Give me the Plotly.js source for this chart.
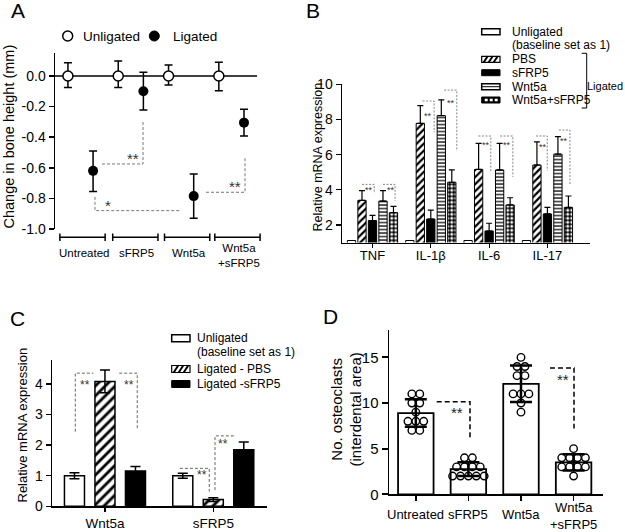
<!DOCTYPE html>
<html>
<head>
<meta charset="utf-8">
<script src="https://cdn.plot.ly/plotly-3.0.1.min.js"></script>
<style>html,body{margin:0;padding:0;background:#fff}</style>
</head>
<body>
<div id="chart" style="width:625px;height:532px"></div>
<script>
// ---- data ----
// A: change in bone height (mm), mean with error bars
var groupsA = ['Untreated', 'sFRP5', 'Wnt5a', 'Wnt5a<br>+sFRP5'];
var unligA = [0, 0, 0, 0];
var unligA_up = [0.087, 0.098, 0.072, 0.089];
var unligA_dn = [0.076, 0.076, 0.059, 0.096];
var ligA = [-0.62, -0.10, -0.785, -0.305];
var ligA_up = [0.13, 0.125, 0.145, 0.087];
var ligA_dn = [0.135, 0.123, 0.145, 0.087];
var yTicksA = [0, -0.2, -0.4, -0.6, -0.8, -1.0];
var yTickTextA = ['0.0', '-0.2', '-0.4', '-0.6', '-0.8', '-1.0'];

// B: relative mRNA expression (baseline 1)
var genesB = ['TNF', 'IL-1β', 'IL-6', 'IL-17'];
var unligB = [1.12, 1.12, 1.12, 1.12];
var pbsB = [3.40, 7.78, 5.16, 5.41];
var pbsB_err = [0.55, 1.01, 1.48, 1.32];
var sfrpB = [2.25, 2.34, 1.66, 2.63];
var sfrpB_err = [0.30, 0.51, 0.44, 0.37];
var wntB = [3.36, 8.22, 5.13, 6.03];
var wntB_err = [0.59, 0.89, 1.51, 0.99];
var comboB = [2.70, 4.43, 3.14, 3.00];
var comboB_err = [0.36, 0.70, 0.41, 0.65];
var yTicksB = [2, 4, 6, 8, 10];

// C: relative mRNA expression
var genesC = ['Wnt5a', 'sFRP5'];
var unligC = [1.0, 1.0];
var unligC_err = [0.10, 0.08];
var pbsC = [4.08, 0.22];
var pbsC_err = [0.37, 0.06];
var sfrpC = [1.15, 1.85];
var sfrpC_err = [0.15, 0.25];
var yTicksC = [0, 1, 2, 3, 4];

// D: osteoclast counts
var groupsD = ['Untreated', 'sFRP5', 'Wnt5a', 'Wnt5a<br>+sFRP5'];
var meanD = [8.9, 2.75, 12.1, 3.5];
var sdD = [1.5, 0.75, 2.0, 0.9];
var ptsD = [
  [11, 11, 10, 10, 9, 8, 8, 8, 7, 7],
  [4, 4, 3, 3, 3, 3, 2, 2, 2, 2, 2],
  [15, 14, 14, 13, 13, 11, 11, 11, 10, 9],
  [5, 4, 4, 4, 4, 3, 3, 3, 3, 2]
];
var yTicksD = [0, 5, 10, 15];

// significance brackets (data coords) and their star labels
var sigA = [
  {pts: [[0.427, -0.575], [1.243, -0.575], [1.243, -0.30]], s: '**', at: [1.05, -0.54]},
  {pts: [[0.288, -0.79], [0.288, -0.88], [1.998, -0.88]], s: '*', at: [0.55, -0.845]},
  {pts: [[2.495, -0.76], [3.27, -0.76], [3.27, -0.53]], s: '**', at: [3.07, -0.725]}
];
var sigB = [
  {pts: [[-0.18, 4.31], [0.03, 4.31], [0.03, 3.8]], s: '**', at: [-0.055, 4.0]},
  {pts: [[0.18, 4.31], [0.387, 4.31], [0.387, 3.36]], s: '**', at: [0.31, 4.0]},
  {pts: [[0.858, 9.05], [1.057, 9.05], [1.057, 7.27]], s: '**', at: [0.954, 8.2]},
  {pts: [[1.228, 9.67], [1.446, 9.67], [1.446, 6.2]], s: '**', at: [1.343, 8.95]},
  {pts: [[1.817, 7.06], [2.029, 7.06], [2.029, 5.03]], s: '**', at: [1.943, 6.55]},
  {pts: [[2.189, 7.06], [2.407, 7.06], [2.407, 4.74]], s: '**', at: [2.30, 6.55]},
  {pts: [[2.803, 7.06], [2.997, 7.06], [2.997, 5.09]], s: '**', at: [2.928, 6.45]},
  {pts: [[3.197, 7.4], [3.386, 7.4], [3.386, 4.27]], s: '**', at: [3.283, 6.75]}
];
var sigC = [
  {pts: [[-0.274, 2.44], [-0.274, 4.35], [-0.108, 4.35]], s: '**', at: [-0.185, 3.95]},
  {pts: [[0.132, 4.35], [0.298, 4.35], [0.298, 2.53]], s: '**', at: [0.222, 3.95]},
  {pts: [[0.692, 1.24], [0.963, 1.24], [0.963, 0.48]], s: '**', at: [0.893, 1.03]},
  {pts: [[1.016, 0.53], [1.016, 2.3], [1.21, 2.3]], s: '**', at: [1.09, 2.02]}
];
var sigD = [
  {pts: [[0.397, 10.15], [1.03, 10.15], [1.03, 6.13]], s: '**', at: [0.778, 9.0]},
  {pts: [[2.551, 13.85], [3.008, 13.85], [3.008, 7.2]], s: '**', at: [2.80, 12.6]}
];

// ---- page geometry ----
var W = 625, H = 532;
function fx(p) { return p / W; }
function fy(p) { return 1 - p / H; }

var shapes = [];
var annotations = [];

function path(xref, yref, pts, color, width, dash) {
  var d = pts.map(function (p, i) { return (i ? 'L' : 'M') + p[0] + ',' + p[1]; }).join(' ');
  shapes.push({type: 'path', xref: xref, yref: yref, path: d,
    line: {color: color, width: width, dash: dash || 'solid'}});
}
function label(xref, yref, x, y, s, size, extra) {
  annotations.push(Object.assign({xref: xref, yref: yref, x: x, y: y, text: s,
    xanchor: 'center', yanchor: 'middle',
    showarrow: false, font: {size: size, color: '#000'}}, extra || {}));
}
function pxPath(pts, color, width) {
  path('paper', 'paper', pts.map(function (p) { return [fx(p[0]), fy(p[1])]; }), color, width);
}
function pxRect(x0, y0, x1, y1, fill, lw) {
  shapes.push({type: 'rect', xref: 'paper', yref: 'paper', x0: fx(x0), x1: fx(x1), y0: fy(y1), y1: fy(y0),
    fillcolor: fill, line: {color: '#000', width: lw}});
}

var base = {showgrid: false, zeroline: false, linecolor: '#000', tickcolor: '#000',
  ticks: 'outside', fixedrange: true};
function ax(o) { return Object.assign({}, base, o); }

var traces = [];

// ---------- Panel A ----------
traces.push({
  type: 'scatter', mode: 'markers', xaxis: 'x', yaxis: 'y',
  x: groupsA.map(function (g, i) { return i - 0.25; }), y: unligA,
  marker: {symbol: 'circle', size: 10, color: '#fff', line: {color: '#000', width: 1.5}},
  error_y: {type: 'data', symmetric: false, array: unligA_up, arrayminus: unligA_dn,
    color: '#000', thickness: 1.5, width: 4},
  cliponaxis: false, showlegend: false
});
traces.push({
  type: 'scatter', mode: 'markers', xaxis: 'x', yaxis: 'y',
  x: groupsA.map(function (g, i) { return i + 0.25; }), y: ligA,
  marker: {symbol: 'circle', size: 10, color: '#000'},
  error_y: {type: 'data', symmetric: false, array: ligA_up, arrayminus: ligA_dn,
    color: '#000', thickness: 1.5, width: 4},
  cliponaxis: false, showlegend: false
});
shapes.push({type: 'line', xref: 'x', yref: 'y', x0: -0.507, x1: 3.51, y0: 0, y1: 0,
  layer: 'below', line: {color: '#000', width: 1.5}});
var bracketA = [0.04, 1.09, 2.12, 3.12];
groupsA.forEach(function (g, i) {
  var c = bracketA[i], yb = fy(237.3);
  path('x', 'paper', [[c - 0.45, yb], [c + 0.45, yb]], '#000', 1.5);
  path('x', 'paper', [[c - 0.45, fy(233.5)], [c - 0.45, fy(241)]], '#000', 1.5);
  path('x', 'paper', [[c + 0.45, fy(233.5)], [c + 0.45, fy(241)]], '#000', 1.5);
  var two = g.indexOf('<br>') >= 0;
  label('x', 'paper', c + 0.03, fy(two ? 255.5 : 253), g, 11.5);
});
sigA.forEach(function (s) {
  path('x', 'y', s.pts, '#777', 1, '3px,2px');
  label('x', 'y', s.at[0], s.at[1], s.s, 15, {font: {size: 15, color: '#333'}});
});
// legend A
shapes.push({type: 'circle', xref: 'paper', yref: 'paper', x0: fx(62.7), x1: fx(72.7), y0: fy(41), y1: fy(31),
  fillcolor: '#fff', line: {color: '#000', width: 1.5}});
shapes.push({type: 'circle', xref: 'paper', yref: 'paper', x0: fx(149.3), x1: fx(159.3), y0: fy(41), y1: fy(31),
  fillcolor: '#000', line: {color: '#000', width: 1}});
label('paper', 'paper', fx(81), fy(36), 'Unligated', 13.5, {xanchor: 'left'});
label('paper', 'paper', fx(170.5), fy(36), 'Ligated', 13.5, {xanchor: 'left'});
label('paper', 'paper', fx(8.5), fy(137), 'Change in bone height (mm)', 14.5, {textangle: -90});
label('paper', 'paper', fx(17.5), fy(10.5), 'A', 21);

// ---------- Panel B ----------
var slotB = 0.18, barB = 0.142;
var patB = {
  unlig: {color: '#fff', line: {color: '#000', width: 1}},
  pbs: {color: '#fff', line: {color: '#000', width: 1},
    pattern: {shape: '/', fgcolor: '#000', bgcolor: '#fff', size: 5, solidity: 0.45}},
  sfrp: {color: '#000', line: {color: '#000', width: 1}},
  wnt: {color: '#fff', line: {color: '#000', width: 1},
    pattern: {shape: '-', fgcolor: '#000', bgcolor: '#fff', size: 3.5, solidity: 0.35}},
  combo: {color: '#000', line: {color: '#000', width: 1},
    pattern: {shape: '.', fgcolor: '#fff', bgcolor: '#000', size: 4, solidity: 0.45}}
};
var seriesB = [
  [unligB, null, patB.unlig], [pbsB, pbsB_err, patB.pbs], [sfrpB, sfrpB_err, patB.sfrp],
  [wntB, wntB_err, patB.wnt], [comboB, comboB_err, patB.combo]
];
seriesB.forEach(function (s, k) {
  var t = {
    type: 'bar', xaxis: 'x2', yaxis: 'y2', x: genesB.map(function (g, i) { return i; }), y: s[0],
    width: barB, offset: (k - 2) * slotB - barB / 2, marker: s[2], showlegend: false
  };
  if (s[1]) t.error_y = {type: 'data', symmetric: false, array: s[1],
    arrayminus: s[1].map(function () { return 0; }), color: '#000', thickness: 1.2, width: 3};
  traces.push(t);
});
sigB.forEach(function (s) {
  path('x2', 'y2', s.pts, '#666', 0.8, '2px,1.5px');
  label('x2', 'y2', s.at[0], s.at[1], s.s, 9, {font: {size: 9, color: '#333'}});
});
label('paper', 'paper', fx(317.5), fy(157), 'Relative mRNA expression', 12.5, {textangle: -90});
label('paper', 'paper', fx(313), fy(10.8), 'B', 21);
// legend B
var rowsB = [31.7, 59.3, 72.7, 86.7, 100];
var sx0 = 481.7, sx1 = 500;
pxRect(sx0, rowsB[0] - 3, sx1, rowsB[0] + 3, '#fff', 1.5);
pxRect(sx0, rowsB[1] - 3, sx1, rowsB[1] + 3, '#fff', 1.2);
[2, 7, 12].forEach(function (o) {
  pxPath([[sx0 + o, rowsB[1] + 3], [sx0 + o + 4, rowsB[1] - 3]], '#000', 2);
});
pxRect(sx0, rowsB[2] - 3, sx1, rowsB[2] + 3, '#000', 1);
pxRect(sx0, rowsB[3] - 3, sx1, rowsB[3] + 3, '#fff', 1.5);
pxPath([[sx0, rowsB[3]], [sx1, rowsB[3]]], '#000', 1);
pxRect(sx0, rowsB[4] - 3, sx1, rowsB[4] + 3, '#000', 1);
[3, 8, 13].forEach(function (o) {
  shapes.push({type: 'rect', xref: 'paper', yref: 'paper', x0: fx(sx0 + o), x1: fx(sx0 + o + 3),
    y0: fy(rowsB[4] + 1.3), y1: fy(rowsB[4] - 1.3), fillcolor: '#fff', line: {width: 0}});
});
label('paper', 'paper', fx(510), fy(31.7), 'Unligated', 12, {xanchor: 'left'});
label('paper', 'paper', fx(510), fy(45), '(baseline set as 1)', 12, {xanchor: 'left'});
label('paper', 'paper', fx(510), fy(59.3), 'PBS', 12, {xanchor: 'left'});
label('paper', 'paper', fx(510), fy(72.7), 'sFRP5', 12, {xanchor: 'left'});
label('paper', 'paper', fx(510), fy(86.7), 'Wnt5a', 12, {xanchor: 'left'});
label('paper', 'paper', fx(510), fy(100), 'Wnt5a+sFRP5', 12, {xanchor: 'left'});
pxPath([[581.7, 53.3], [586.7, 53.3], [586.7, 108], [581.7, 108]], '#000', 1);
label('paper', 'paper', fx(625), fy(86), 'Ligated', 11, {xanchor: 'right'});

// ---------- Panel C ----------
var slotC = 0.2816, barC = 0.185;
var seriesC = [
  [unligC, unligC_err, {color: '#fff', line: {color: '#000', width: 1.5}}],
  [pbsC, pbsC_err, {color: '#fff', line: {color: '#000', width: 1.5},
    pattern: {shape: '/', fgcolor: '#000', bgcolor: '#fff', size: 7, solidity: 0.4}}],
  [sfrpC, sfrpC_err, {color: '#000', line: {color: '#000', width: 1.5}}]
];
seriesC.forEach(function (s, k) {
  traces.push({
    type: 'bar', xaxis: 'x3', yaxis: 'y3', x: genesC.map(function (g, i) { return i; }), y: s[0],
    width: barC, offset: (k - 1) * slotC - barC / 2, marker: s[2], showlegend: false,
    error_y: {type: 'data', array: s[1], color: '#000', thickness: 1.5, width: 5}
  });
});
sigC.forEach(function (s) {
  path('x3', 'y3', s.pts, '#666', 1, '3px,2px');
  label('x3', 'y3', s.at[0], s.at[1], s.s, 12, {font: {size: 12, color: '#333'}});
});
label('paper', 'paper', fx(21.5), fy(425), 'Relative mRNA expression', 13, {textangle: -90});
label('paper', 'paper', fx(17), fy(318), 'C', 21);
// legend C
var rowsC = [338.3, 369, 384];
var cx0 = 171.7, cx1 = 190;
pxRect(cx0, rowsC[0] - 3.5, cx1, rowsC[0] + 3.5, '#fff', 1.5);
pxRect(cx0, rowsC[1] - 3.5, cx1, rowsC[1] + 3.5, '#fff', 1.2);
[2, 7, 12].forEach(function (o) {
  pxPath([[cx0 + o, rowsC[1] + 3.5], [cx0 + o + 4.5, rowsC[1] - 3.5]], '#000', 2);
});
pxRect(cx0, rowsC[2] - 3.5, cx1, rowsC[2] + 3.5, '#000', 1);
label('paper', 'paper', fx(195), fy(338.3), 'Unligated', 12, {xanchor: 'left'});
label('paper', 'paper', fx(195), fy(352.3), '(baseline set as 1)', 12, {xanchor: 'left'});
label('paper', 'paper', fx(195), fy(369), 'Ligated - PBS', 12, {xanchor: 'left'});
label('paper', 'paper', fx(195), fy(384), 'Ligated -sFRP5', 12, {xanchor: 'left'});

// ---------- Panel D ----------
traces.push({
  type: 'bar', xaxis: 'x4', yaxis: 'y4', x: groupsD.map(function (g, i) { return i; }), y: meanD,
  width: 0.675, marker: {color: '#fff', line: {color: '#000', width: 1.8}}, showlegend: false,
  error_y: {type: 'data', array: sdD, color: '#000', thickness: 2.5, width: 11}
});
function swarm(vals, step) {
  var counts = {}, seen = {};
  vals.forEach(function (v) { counts[v] = (counts[v] || 0) + 1; });
  return vals.map(function (v) {
    var k = seen[v] || 0; seen[v] = k + 1;
    return (k - (counts[v] - 1) / 2) * step;
  });
}
var dx = [], dy = [];
ptsD.forEach(function (vals, g) {
  var off = swarm(vals, 0.15);
  vals.forEach(function (v, j) { dx.push(g + off[j]); dy.push(v); });
});
traces.push({
  type: 'scatter', mode: 'markers', xaxis: 'x4', yaxis: 'y4', x: dx, y: dy,
  marker: {symbol: 'circle-open', size: 7.5, color: '#000', line: {width: 1.4}},
  cliponaxis: false, showlegend: false
});
sigD.forEach(function (s) {
  path('x4', 'y4', s.pts, '#000', 1.5, '5px,3px');
  label('x4', 'y4', s.at[0], s.at[1], s.s, 15, {font: {size: 15, color: '#222'}});
});
groupsD.forEach(function (g, i) {
  var two = g.indexOf('<br>') >= 0;
  label('x4', 'paper', i, fy(two ? 516 : 514.5), g, 13);
});
label('paper', 'paper', fx(345.5), fy(410), 'No. osteoclasts<br>(interdental area)', 15, {textangle: -90});
label('paper', 'paper', fx(330), fy(316), 'D', 21);

var layout = {
  width: W, height: H, margin: {l: 0, r: 0, t: 0, b: 0},
  paper_bgcolor: '#fff', plot_bgcolor: 'rgba(0,0,0,0)',
  font: {family: 'Liberation Sans, Arial, sans-serif', color: '#000'},
  barmode: 'overlay', showlegend: false,
  xaxis: ax({domain: [fx(55), fx(262)], range: [-0.507, 3.608], showline: false, ticks: '',
    showticklabels: false, anchor: 'y'}),
  yaxis: ax({domain: [fy(229), fy(53)], range: [-1.0, 0.15], showline: true, linewidth: 1.5,
    ticklen: 5, tickwidth: 1.5, tickvals: yTicksA, ticktext: yTickTextA, tickfont: {size: 14}, anchor: 'x'}),
  xaxis2: ax({domain: [fx(341.7), fx(590)], range: [-0.528, 3.73], showline: true, linewidth: 1.2,
    tickvals: [0, 1, 2, 3], ticktext: genesB, ticklen: 4, tickwidth: 1.2, ticklabelstandoff: -3,
    tickfont: {size: 13}, anchor: 'y2'}),
  yaxis2: ax({domain: [fy(242.6), fy(84.3)], range: [1, 10], showline: true, linewidth: 1.2,
    tickvals: yTicksB, ticklen: 5, tickwidth: 1.2, tickfont: {size: 14}, anchor: 'x2'}),
  xaxis3: ax({domain: [fx(52), fx(267)], range: [-0.489, 1.496], showline: true, linewidth: 1.5,
    tickvals: [0, 1], ticktext: genesC, ticklen: 4, tickwidth: 1.5, tickfont: {size: 13.5}, anchor: 'y3'}),
  yaxis3: ax({domain: [fy(506.3), fy(360)], range: [0, 4.78], showline: true, linewidth: 1.5,
    tickvals: yTicksC, ticklen: 5, tickwidth: 1.5, tickfont: {size: 14}, anchor: 'x3'}),
  xaxis4: ax({domain: [fx(389.3), fx(603.3)], range: [-0.504, 3.565], showline: true, linewidth: 1.8,
    tickvals: [0, 1, 2, 3], showticklabels: false, ticklen: 5, tickwidth: 1.5, anchor: 'y4'}),
  yaxis4: ax({domain: [fy(494.3), fy(330)], range: [0, 18], showline: true, linewidth: 1.8,
    tickvals: yTicksD, ticklen: 6, tickwidth: 1.8, tickfont: {size: 15}, anchor: 'x4'}),
  shapes: shapes,
  annotations: annotations
};

Plotly.newPlot('chart', traces, layout, {staticPlot: true, displayModeBar: false});
</script>
</body>
</html>
